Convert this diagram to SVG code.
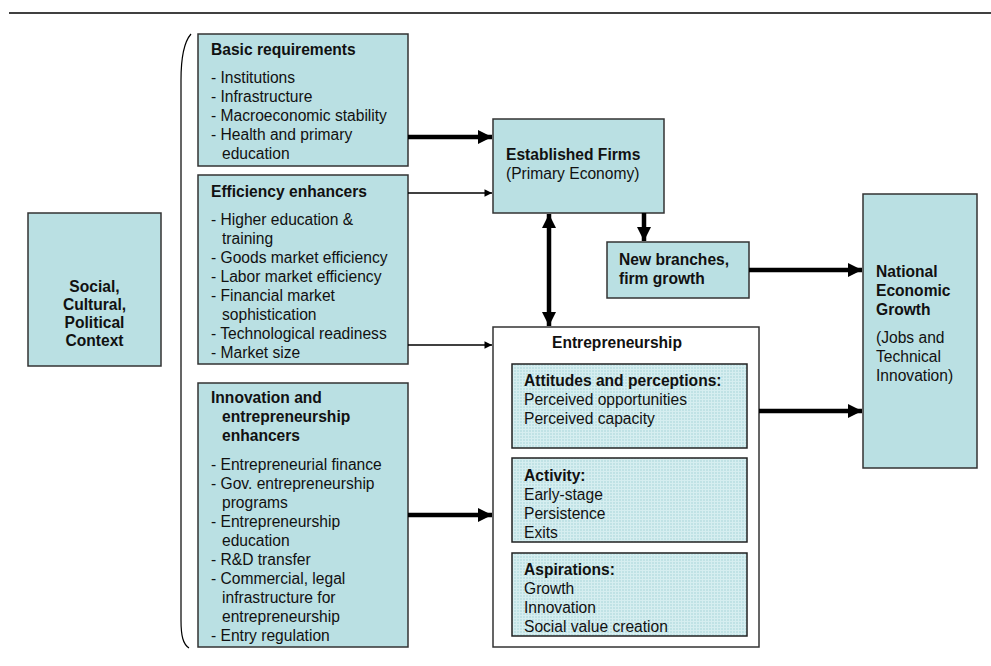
<svg xmlns="http://www.w3.org/2000/svg" width="991" height="666" viewBox="0 0 991 666">
  <defs>
    <style>
      .box { fill: #bae0e3; stroke: #333; stroke-width: 1.5; }
      .hatch { fill: url(#grid); stroke: #222; stroke-width: 1.5; }
      .plain { fill: #fff; stroke: #333; stroke-width: 1.5; }
      text { font-family: "Liberation Sans", Arial, sans-serif; font-size: 15.6px; fill: #111; }
      .b { font-weight: bold; }
      .c { text-anchor: middle; }
      .thick { stroke: #000; stroke-width: 4.5; fill: none; }
      .thin { stroke: #000; stroke-width: 1.5; fill: none; }
    </style>
    <pattern id="grid" width="3" height="3" patternUnits="userSpaceOnUse">
      <rect width="3" height="3" fill="#c0e2e5"/>
      <path d="M0 0.5H3M0.5 0V3" stroke="#d6eef0" stroke-width="1"/>
    </pattern>
    <marker id="headBig" viewBox="0 0 10 10" refX="10" refY="5" markerWidth="3.2" markerHeight="3.2" markerUnits="strokeWidth" orient="auto-start-reverse">
      <path d="M0 0L10 5L0 10z" fill="#000"/>
    </marker>
    <marker id="headSmall" viewBox="0 0 10 10" refX="10" refY="5" markerWidth="6" markerHeight="5" markerUnits="strokeWidth" orient="auto">
      <path d="M0 0L10 5L0 10z" fill="#000"/>
    </marker>
  </defs>

  <!-- header rule -->
  <line x1="9" y1="13" x2="991" y2="13" stroke="#000" stroke-width="1.5"/>

  <!-- bracket grouping the three pillars -->
  <path d="M191 34 C184 42 181 56 181 80 L181 620 C181 636 183 644 189 648" fill="none" stroke="#000" stroke-width="1.2"/>

  <g id="context">
    <rect class="box" x="28" y="213" width="133" height="153"/>
    <text class="b c" x="94.5" y="292">Social,</text>
    <text class="b c" x="94.5" y="310">Cultural,</text>
    <text class="b c" x="94.5" y="328">Political</text>
    <text class="b c" x="94.5" y="346">Context</text>
  </g>

  <g id="basic">
    <rect class="box" x="198" y="34" width="210" height="132"/>
    <text class="b" x="211" y="55">Basic requirements</text>
    <text x="211" y="83">- Institutions</text>
    <text x="211" y="102">- Infrastructure</text>
    <text x="211" y="121">- Macroeconomic stability</text>
    <text x="211" y="140">- Health and primary</text>
    <text x="222" y="159">education</text>
  </g>

  <g id="efficiency">
    <rect class="box" x="198" y="175" width="210" height="189"/>
    <text class="b" x="211" y="197">Efficiency enhancers</text>
    <text x="211" y="225">- Higher education &amp;</text>
    <text x="222" y="244">training</text>
    <text x="211" y="263">- Goods market efficiency</text>
    <text x="211" y="282">- Labor market efficiency</text>
    <text x="211" y="301">- Financial market</text>
    <text x="222" y="320">sophistication</text>
    <text x="211" y="339">- Technological readiness</text>
    <text x="211" y="358">- Market size</text>
  </g>

  <g id="innovation">
    <rect class="box" x="198" y="383" width="210" height="264"/>
    <text class="b" x="211" y="403">Innovation and</text>
    <text class="b" x="222" y="422">entrepreneurship</text>
    <text class="b" x="222" y="441">enhancers</text>
    <text x="211" y="470">- Entrepreneurial finance</text>
    <text x="211" y="489">- Gov. entrepreneurship</text>
    <text x="222" y="508">programs</text>
    <text x="211" y="527">- Entrepreneurship</text>
    <text x="222" y="546">education</text>
    <text x="211" y="565">- R&amp;D transfer</text>
    <text x="211" y="584">- Commercial, legal</text>
    <text x="222" y="603">infrastructure for</text>
    <text x="222" y="622">entrepreneurship</text>
    <text x="211" y="641">- Entry regulation</text>
  </g>

  <g id="established">
    <rect class="box" x="493" y="119" width="171" height="94"/>
    <text class="b" x="506" y="160">Established Firms</text>
    <text x="506" y="179">(Primary Economy)</text>
  </g>

  <g id="branches">
    <rect class="box" x="607" y="242" width="142" height="56"/>
    <text class="b" x="619" y="265">New branches,</text>
    <text class="b" x="619" y="284">firm growth</text>
  </g>

  <g id="entrepreneurship">
    <rect class="plain" x="493" y="327" width="266" height="320"/>
    <text class="b c" x="617" y="348">Entrepreneurship</text>
    <rect class="hatch" x="512" y="364" width="235" height="84"/>
    <text class="b" x="524" y="386">Attitudes and perceptions:</text>
    <text x="524" y="405">Perceived opportunities</text>
    <text x="524" y="424">Perceived capacity</text>
    <rect class="hatch" x="512" y="458" width="235" height="84"/>
    <text class="b" x="524" y="481">Activity:</text>
    <text x="524" y="500">Early-stage</text>
    <text x="524" y="519">Persistence</text>
    <text x="524" y="538">Exits</text>
    <rect class="hatch" x="512" y="553" width="235" height="83"/>
    <text class="b" x="524" y="575">Aspirations:</text>
    <text x="524" y="594">Growth</text>
    <text x="524" y="613">Innovation</text>
    <text x="524" y="632">Social value creation</text>
  </g>

  <g id="growth">
    <rect class="box" x="863" y="194" width="114" height="274"/>
    <text class="b" x="876" y="277">National</text>
    <text class="b" x="876" y="296">Economic</text>
    <text class="b" x="876" y="315">Growth</text>
    <text x="876" y="343">(Jobs and</text>
    <text x="876" y="362">Technical</text>
    <text x="876" y="381">Innovation)</text>
  </g>

  <g id="connectors">
    <line class="thick" x1="408" y1="137" x2="492" y2="137" marker-end="url(#headBig)"/>
    <line class="thin" x1="408" y1="193" x2="492" y2="193" marker-end="url(#headSmall)"/>
    <line class="thin" x1="408" y1="345" x2="492" y2="345" marker-end="url(#headSmall)"/>
    <line class="thick" x1="408" y1="515" x2="492" y2="515" marker-end="url(#headBig)"/>
    <line class="thick" x1="644" y1="213" x2="644" y2="241" marker-end="url(#headBig)"/>
    <line class="thick" x1="549" y1="214" x2="549" y2="326" marker-start="url(#headBig)" marker-end="url(#headBig)"/>
    <line class="thick" x1="749" y1="270" x2="862" y2="270" marker-end="url(#headBig)"/>
    <line class="thick" x1="759" y1="411" x2="862" y2="411" marker-end="url(#headBig)"/>
  </g>
</svg>
